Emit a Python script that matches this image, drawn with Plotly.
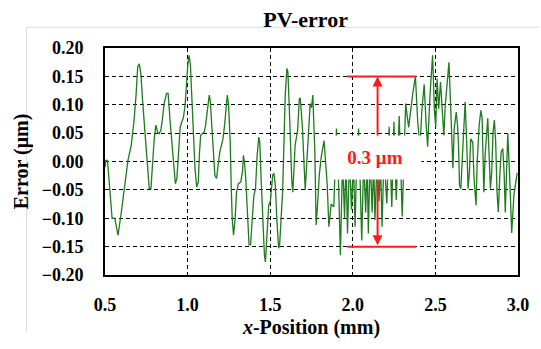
import plotly.graph_objects as go

# x-position (mm) and PV error (um)
x_pos = [
    0.500, 0.505, 0.515, 0.529, 0.543, 0.559, 0.579, 0.599, 0.619, 0.639,
    0.659, 0.675, 0.688, 0.698, 0.708, 0.718, 0.728, 0.742, 0.758, 0.768,
    0.778, 0.788, 0.798, 0.808, 0.818, 0.828, 0.838, 0.848, 0.858, 0.872,
    0.882, 0.896, 0.910, 0.926, 0.935, 0.945, 0.955, 0.965, 0.975, 0.985,
    0.991, 1.001, 1.009, 1.017, 1.025, 1.035, 1.045, 1.055, 1.065, 1.071,
    1.079, 1.089, 1.101, 1.109, 1.119, 1.131, 1.137, 1.145, 1.155, 1.165,
    1.175, 1.185, 1.195, 1.205, 1.214, 1.224, 1.234, 1.240, 1.248, 1.258,
    1.264, 1.270, 1.278, 1.288, 1.296, 1.308, 1.322, 1.332, 1.338, 1.344,
    1.352, 1.362, 1.372, 1.381, 1.391, 1.401, 1.411, 1.421, 1.431, 1.437,
    1.445, 1.455, 1.465, 1.471, 1.481, 1.491, 1.501, 1.507, 1.515, 1.523,
    1.531, 1.541, 1.551, 1.557, 1.567, 1.575, 1.583, 1.591, 1.601, 1.607,
    1.615, 1.623, 1.631, 1.637, 1.645, 1.651, 1.666, 1.676, 1.682, 1.695,
    1.712, 1.722, 1.732, 1.742, 1.750, 1.758, 1.770, 1.778, 1.787, 1.797,
    1.809, 1.826, 1.835, 1.845, 1.855, 1.869, 1.885, 1.901, 1.914, 1.925,
    1.938, 1.950, 1.959, 1.968, 1.980, 1.992, 2.004, 2.014, 2.024, 2.035,
    2.045, 2.054, 2.066, 2.078, 2.087, 2.094, 2.105, 2.117, 2.126, 2.134,
    2.147, 2.159, 2.168, 2.177, 2.189, 2.206, 2.220, 2.236, 2.249, 2.263,
    2.281, 2.299, 2.320, 2.338, 2.363, 2.379, 2.393, 2.407, 2.418, 2.432,
    2.443, 2.453, 2.468, 2.483, 2.494, 2.502, 2.510, 2.520, 2.531, 2.540,
    2.551, 2.560, 2.570, 2.582, 2.592, 2.598, 2.606, 2.614, 2.626, 2.634,
    2.640, 2.646, 2.654, 2.662, 2.670, 2.680, 2.690, 2.698, 2.706, 2.714,
    2.726, 2.734, 2.746, 2.753, 2.765, 2.775, 2.783, 2.789, 2.793, 2.801,
    2.809, 2.817, 2.825, 2.833, 2.841, 2.849, 2.857, 2.865, 2.873, 2.881,
    2.889, 2.898, 2.908, 2.916, 2.923, 2.932, 2.938, 2.950, 2.962, 2.975,
    2.995,
]
pv_error = [
    -0.010, 0.002, 0.002, -0.042, -0.100, -0.100, -0.130, -0.089, -0.042, 0.002,
    0.029, 0.070, 0.117, 0.167, 0.172, 0.152, 0.105, 0.052, -0.018, -0.048,
    -0.048, -0.001, 0.040, 0.064, 0.052, 0.049, 0.055, 0.076, 0.102, 0.120,
    0.120, 0.064, 0.011, -0.039, -0.030, 0.011, 0.060, 0.070, 0.078, 0.100,
    0.128, 0.170, 0.187, 0.170, 0.117, 0.052, -0.013, -0.045, -0.036, 0.011,
    0.046, 0.049, 0.052, 0.064, 0.093, 0.117, 0.108, 0.070, 0.017, -0.024,
    -0.030, -0.007, 0.017, 0.029, 0.040, 0.064, 0.108, 0.117, 0.100, 0.034,
    -0.043, -0.100, -0.130, -0.100, -0.054, -0.039, -0.036, -0.018, 0.011, -0.001,
    -0.030, -0.100, -0.147, -0.147, -0.100, -0.060, -0.048, 0.011, 0.043, 0.034,
    -0.030, -0.106, -0.165, -0.177, -0.124, -0.077, -0.070, -0.054, -0.024, -0.021,
    -0.042, -0.106, -0.153, -0.147, -0.100, -0.054, 0.029, 0.117, 0.164, 0.158,
    0.099, 0.011, -0.036, -0.054, -0.018, 0.029, 0.055, 0.110, 0.112, 0.060,
    -0.050, 0.000, 0.058, 0.102, 0.095, 0.117, 0.020, -0.112, -0.075, -0.024,
    0.008, 0.037, 0.000, -0.040, -0.115, -0.075, -0.080, 0.058, -0.040, -0.165,
    0.005, -0.100, 0.000, -0.127, 0.010, -0.085, 0.000, -0.115, 0.010, 0.058,
    -0.040, -0.139, 0.005, -0.090, 0.000, -0.127, 0.010, -0.090, 0.000, -0.103,
    0.005, -0.070, 0.000, -0.115, 0.010, -0.074, 0.061, -0.080, 0.070, -0.068,
    0.080, -0.097, 0.102, 0.060, 0.120, 0.150, 0.070, 0.026, 0.090, 0.136,
    0.070, 0.026, 0.120, 0.187, 0.090, 0.061, 0.146, 0.093, 0.140, 0.090,
    0.046, 0.100, 0.140, 0.175, 0.100, 0.050, -0.012, 0.058, 0.087, 0.064,
    0.029, -0.042, -0.048, 0.000, 0.046, 0.105, 0.029, -0.048, -0.018, 0.040,
    0.034, -0.030, -0.077, 0.000, 0.064, 0.090, 0.076, -0.030, -0.054, 0.011,
    0.046, 0.076, 0.011, -0.048, -0.018, 0.052, 0.073, 0.034, -0.054, -0.089,
    -0.030, 0.017, 0.023, -0.020, -0.090, 0.000, 0.050, -0.030, -0.126, -0.060,
    -0.020,
]

x_ticks = [0.5, 1.0, 1.5, 2.0, 2.5, 3.0]
y_ticks = [-0.20, -0.15, -0.10, -0.05, 0.00, 0.05, 0.10, 0.15, 0.20]

pv_top, pv_bottom = 0.15, -0.15
marker_x0, marker_x1, arrow_x = 1.966, 2.384, 2.150
pv_label = "0.3 μm"

SERIF = "Liberation Serif, Times New Roman, serif"
RED = "#ff1a1a"

fig = go.Figure()
fig.add_trace(go.Scatter(
    x=x_pos, y=pv_error, mode="lines",
    line=dict(color="#1e7b1e", width=1.3),
    showlegend=False, hoverinfo="skip",
))

axis_common = dict(
    showline=True, linewidth=2, linecolor="black", mirror=True,
    showgrid=True, gridcolor="black", gridwidth=1, griddash="4px,3px",
    zeroline=False, ticks="",
    tickfont=dict(family=SERIF, size=18, color="black", weight="bold"),
)

fig.update_layout(
    width=541, height=349,
    margin=dict(l=105, r=18, t=48, b=74),
    paper_bgcolor="white", plot_bgcolor="white",
    title=dict(text="PV-error", x=0.565, xref="container", xanchor="center",
               y=0.945, yref="container", yanchor="middle",
               font=dict(family=SERIF, size=22, color="black", weight="bold")),
    xaxis=dict(range=[0.5, 3.0], tickvals=x_ticks, tickformat=".1f",
               ticklabelstandoff=12,
               title=dict(text="<i>x</i>-Position (mm)", standoff=6,
                          font=dict(family=SERIF, size=20, color="black", weight="bold")),
               **axis_common),
    yaxis=dict(range=[-0.2, 0.2], tickvals=y_ticks, tickformat=".2f",
               ticklabelstandoff=16,
               title=dict(text="Error (μm)", standoff=8,
                          font=dict(family=SERIF, size=20, color="black", weight="bold")),
               **axis_common),
)

# faint outer chart-area frame (left and top edges)
fig.add_shape(type="line", xref="paper", yref="paper", x0=-0.19, x1=1.05, y0=1.091, y1=1.091,
              line=dict(color="#dcdcdc", width=1))
fig.add_shape(type="line", xref="paper", yref="paper", x0=-0.19, x1=-0.19, y0=1.091, y1=-0.25,
              line=dict(color="#dcdcdc", width=1))

# red peak-to-valley markers
for yv in (pv_top, pv_bottom):
    fig.add_shape(type="line", xref="x", yref="y", x0=marker_x0, x1=marker_x1, y0=yv, y1=yv,
                  line=dict(color=RED, width=2))

fig.add_annotation(x=arrow_x, y=pv_top, ax=arrow_x, ay=pv_bottom, xref="x", yref="y",
                   axref="x", ayref="y", text="", showarrow=True,
                   arrowside="end+start", arrowhead=2, arrowsize=1, arrowwidth=2,
                   arrowcolor=RED)
fig.add_annotation(x=2.135, y=0.0076, xref="x", yref="y", text=pv_label, showarrow=False,
                   bgcolor="white", width=90, height=41, borderpad=1,
                   font=dict(family=SERIF, size=19, color=RED, weight="bold"))

fig.write_html("out.html")
